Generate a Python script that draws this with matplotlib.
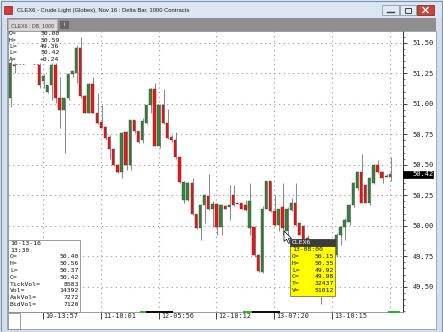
import matplotlib
matplotlib.use('Agg')
import matplotlib.pyplot as plt
import numpy as np
from matplotlib.patches import Rectangle, Polygon
import matplotlib.transforms as mtransforms
from matplotlib.ticker import MultipleLocator, FormatStrFormatter

nan = float('nan')

# ---------------- data (Delta bars) ----------------
opens = [51.05, 51.31, nan, nan, nan, nan, nan, 51.32, 51.19, 51.10,
         51.15, 51.32, 51.05, 50.95, 51.05, 51.24, 51.25, 51.46, 51.06, 50.92,
         51.16, 50.92, 50.85, 50.81, 50.73, 50.63, 50.50, 50.44, 50.77, 50.50,
         50.87, 50.78, 50.70, 50.84, 50.99, 51.12, 50.65, 50.99, 50.84, 50.73,
         50.70, 50.56, 50.21, 50.21, 50.35, 50.10, 49.98, 50.17, 50.24, 50.14,
         50.18, 49.99, 50.16, 50.15, 50.25, 50.19, 50.19, 50.17, 49.98, 49.99,
         49.76, 49.62, 50.14, 50.37, 50.12, 50.01, 50.15, 49.96, 50.13, 50.19,
         50.02, 50.00, 49.90, 49.80, 49.70, 49.48, 49.63, 49.72, 49.82, 49.76,
         49.92, 49.99, 50.03, 50.17, 50.31, 50.44, 50.33, 50.19, 50.35, 50.50,
         50.44, 50.41, 50.40]
highs = [51.36, 51.33, nan, nan, nan, nan, nan, 51.33, 51.24, 51.15,
         51.33, 51.33, 51.22, 51.05, 51.24, 51.28, 51.48, 51.55, 51.07, 51.17,
         51.22, 51.09, 50.99, 50.82, 50.74, 50.64, 50.51, 50.77, 50.78, 50.87,
         50.87, 50.78, 50.88, 51.00, 51.13, 51.17, 51.00, 51.12, 50.96, 50.74,
         50.77, 50.56, 50.37, 50.36, 50.39, 50.10, 50.18, 50.26, 50.42, 50.20,
         50.19, 50.18, 50.17, 50.33, 50.33, 50.19, 50.19, 50.21, 50.35, 50.00,
         49.77, 50.16, 50.37, 50.37, 50.25, 50.14, 50.35, 50.15, 50.23, 50.35,
         50.03, 50.01, 49.92, 49.82, 49.72, 49.68, 49.78, 49.83, 49.84, 49.94,
         50.00, 50.06, 50.18, 50.36, 50.45, 50.59, 50.34, 50.40, 50.51, 50.54,
         50.45, 50.42, 50.56]
lows = [50.97, 51.25, nan, nan, nan, nan, nan, 51.13, 51.13, 51.09,
        51.03, 51.01, 50.80, 50.60, 51.03, 51.22, 51.17, 51.05, 50.92, 50.92,
        50.92, 50.83, 50.80, 50.70, 50.55, 50.49, 50.43, 50.39, 50.46, 50.46,
        50.76, 50.68, 50.68, 50.83, 50.92, 50.65, 50.64, 50.83, 50.71, 50.69,
        50.55, 50.35, 50.19, 50.20, 50.09, 49.97, 49.88, 50.02, 50.13, 49.99,
        49.92, 49.92, 50.14, 50.05, 50.16, 50.18, 50.14, 50.12, 49.92, 49.74,
        49.62, 49.61, 50.14, 50.11, 50.00, 49.96, 49.92, 49.88, 50.12, 50.00,
        49.92, 49.87, 49.78, 49.68, 49.52, 49.36, 49.60, 49.70, 49.72, 49.74,
        49.84, 49.88, 50.01, 50.15, 50.29, 50.19, 50.19, 50.17, 50.34, 50.43,
        50.35, 50.40, 50.37]
closes = [51.33, 51.31, nan, nan, nan, nan, nan, 51.15, 51.23, 51.15,
          51.32, 51.05, 50.95, 51.05, 51.24, 51.27, 51.46, 51.06, 50.92, 51.16,
          50.92, 50.84, 50.80, 50.72, 50.63, 50.50, 50.44, 50.76, 50.50, 50.87,
          50.78, 50.69, 50.86, 50.99, 51.12, 50.65, 50.99, 50.84, 50.72, 50.70,
          50.56, 50.36, 50.36, 50.35, 50.10, 49.98, 50.17, 50.25, 50.14, 50.18,
          49.99, 50.17, 50.14, 50.17, 50.17, 50.18, 50.14, 50.13, 50.20, 49.76,
          49.63, 50.14, 50.37, 50.12, 50.01, 50.14, 49.98, 50.14, 50.19, 50.01,
          49.92, 49.88, 49.80, 49.70, 49.56, 49.64, 49.76, 49.80, 49.74, 49.92,
          49.99, 50.05, 50.17, 50.35, 50.44, 50.19, 50.19, 50.39, 50.50, 50.44,
          50.39, 50.40, 50.42]

tick_positions = [8, 22, 36, 50, 64, 78]
tick_labels = ['10-13:57', '11-10:01', '12-05:56', '12-10:12', '13-07:20', '13-10:15']
price_ticks = [49.50, 49.75, 50.00, 50.25, 50.50, 50.75, 51.00, 51.25, 51.50]
last_price = 50.42

header_labels = ['O=', 'H=', 'L=', 'L=', 'A=']
header_values = ['50.00', '50.59', '49.36', '50.42', '+0.24']

info_date = ['10-13-16', '13:30']
info_labels = ['O=', 'H=', 'L=', 'C=', 'TickVol=', 'Vol=', 'AskVol=', 'BidVol=']
info_values = ['50.40', '50.56', '50.37', '50.42', '8583', '14392', '7272', '7120']

tip_title = 'CLEX6'
tip_time = '13-08:00'
tip_labels = ['O=', 'H=', 'L=', 'C=', 'T=', 'V=']
tip_values = ['50.15', '50.35', '49.92', '49.98', '32437', '51012']

title_text = 'CLEX6 - Crude Light (Globex), Nov 16 : Delta Bar, 1000 Contracts'
tab_text = 'CLEX6 : DB, 1000'

MONO = 'DejaVu Sans Mono'
SANS = 'Liberation Sans'
FS = 4.6

W, H = 443, 332
fig = plt.figure(figsize=(W / 100, H / 100), dpi=100)
fig.patch.set_facecolor('#d3dfee')

# --------------- background chrome (pixel coordinates) ---------------
bg = fig.add_axes([0, 0, 1, 1], zorder=0)
bg.set_xlim(0, W); bg.set_ylim(H, 0); bg.axis('off')
bg.add_patch(Rectangle((0, 0), W, 18, fc='#dce6f3', ec='none'))
bg.add_patch(Rectangle((7, 18), 429, 13, fc='#8f8f8f', ec='none'))
bg.add_patch(Rectangle((8, 19), 49, 12, fc='#d6d6d6', ec='#b0b0b0', lw=0.5))
bg.add_patch(Rectangle((60, 21), 9, 8, fc='#666666', ec='none'))
bg.text(64.5, 25, 'i', color='white', fontsize=4, ha='center', va='center', family=SANS)
bg.add_patch(Rectangle((7, 31), 429, 298, fc='white', ec='#8a9bb0', lw=0.6))
bg.add_patch(Rectangle((4, 6), 8, 8, fc='#d33a3a', ec='#902020', lw=0.5))
bg.add_patch(Rectangle((0.5, 0.5), W - 1, H - 1, fc='none', ec='#7d93ad', lw=0.8))
# window buttons
bg.add_patch(Rectangle((382, 5), 17, 10, fc='#e3eaf3', ec='#8a9bb0', lw=0.6))
bg.plot([387, 394], [11.5, 11.5], color='#404040', lw=1.0)
bg.add_patch(Rectangle((400, 5), 16, 10, fc='#e3eaf3', ec='#8a9bb0', lw=0.6))
bg.add_patch(Rectangle((405, 8), 6, 5, fc='none', ec='#404040', lw=0.7))
bg.add_patch(Rectangle((417, 5), 17, 10, fc='#c9463d', ec='#8a3030', lw=0.6))
bg.plot([423, 428], [7.5, 12.5], color='white', lw=1.0)
bg.plot([423, 428], [12.5, 7.5], color='white', lw=1.0)

t_title = bg.text(17, 10.5, title_text, fontsize=5, family=SANS, color='#1a1a1a', va='center', ha='left')
t_tab = bg.text(11, 25.5, tab_text, fontsize=4, family=SANS, color='#404040', va='center', ha='left')

# --------------- main chart axes ---------------
L, R, T, B = 8, 403, 31, 312
ax = fig.add_axes([L / W, (H - B) / H, (R - L) / W, (B - T) / H], zorder=2)
ax.set_facecolor('white')

x = np.arange(len(opens))
o = np.array(opens); h = np.array(highs); lo = np.array(lows); c = np.array(closes)
up = c >= o
body_bottom = np.minimum(o, c)
body_height = np.maximum(np.abs(c - o), 0.006)

ax.vlines(x + 0.22, lo, h, color='#8c8c8c', lw=0.75, zorder=2)
ax.bar(x[up], body_height[up], bottom=body_bottom[up], width=0.58,
       color='#3f7f3f', edgecolor='#2a5a2e', linewidth=0.3, zorder=3)
ax.bar(x[~up], body_height[~up], bottom=body_bottom[~up], width=0.58,
       color='#e21c1c', edgecolor='#9a1414', linewidth=0.3, zorder=3)

ax.set_xlim(-0.48, 95.16)
ax.set_ylim(49.293, 51.596)

ax.yaxis.tick_right()
ax.set_yticks(price_ticks)
ax.yaxis.set_major_formatter(FormatStrFormatter('%.2f'))
ax.yaxis.set_minor_locator(MultipleLocator(0.05))
ax.tick_params(axis='y', which='major', direction='out', length=2.6, width=0.6,
               pad=4.2, labelsize=5.0, colors='#202020')
ax.tick_params(axis='y', which='minor', direction='out', length=1.4, width=0.5, colors='#404040')
for lab in ax.get_yticklabels():
    lab.set_family(MONO)

ax.set_xticks(tick_positions)
ax.set_xticklabels(tick_labels)
ax.set_xticks([92], minor=True)
ax.tick_params(axis='x', which='major', direction='out', length=5.2, width=0.6,
               pad=-4.6, labelsize=4.9, colors='#202020')
ax.tick_params(axis='x', which='minor', length=0)
offset = mtransforms.ScaledTranslation(2.2 / 100, 0, fig.dpi_scale_trans)
for lab in ax.get_xticklabels():
    lab.set_family(MONO)
    lab.set_horizontalalignment('left')
    lab.set_transform(lab.get_transform() + offset)

ax.grid(which='major', axis='both', color='#9a9a9a', linestyle=(0, (1, 3.2)), lw=0.8, zorder=0)
ax.grid(which='minor', axis='x', color='#9a9a9a', linestyle=(0, (1, 3.2)), lw=0.8, zorder=0)
ax.grid(which='minor', axis='y', visible=False)
ax.set_axisbelow(True)

for s in ['left', 'top', 'bottom']:
    ax.spines[s].set_color('#8a8a8a'); ax.spines[s].set_linewidth(0.6)
ax.spines['right'].set_color('#303030'); ax.spines['right'].set_linewidth(0.7)

# last price marker on the axis
blend = mtransforms.blended_transform_factory(ax.transAxes, ax.transData)
box_h = 7.5 / 122.0
ax.add_patch(Rectangle((1.0, last_price - box_h / 2), 30 / (R - L), box_h, transform=blend,
                       fc='black', ec='black', lw=0.5, clip_on=False, zorder=5))
ax.text(1.0 + 9 / (R - L), last_price, f'{last_price:.2f}', transform=blend, color='white',
        fontsize=5.0, family=MONO, va='center', ha='left', clip_on=False, zorder=6)

# --------------- overlay (pixel coordinates) ---------------
ov = fig.add_axes([0, 0, 1, 1], zorder=10)
ov.set_xlim(0, W); ov.set_ylim(H, 0); ov.axis('off'); ov.patch.set_alpha(0)

# top-left header readout
for i, (lb, vl) in enumerate(zip(header_labels, header_values)):
    yy = 33.5 + i * 6.5
    ov.text(9, yy, lb, fontsize=FS, family=MONO, va='center', ha='left', color='#101010')
    ov.text(59.5, yy, vl, fontsize=FS, family=MONO, va='center', ha='right', color='#101010')
ov.plot([9, 24], [63.5, 63.5], color='#c04848', lw=0.6, linestyle=(0, (2, 2)))
ov.plot([33, 38], [63.5, 63.5], color='#c04848', lw=0.6, linestyle=(0, (2, 2)))

# session markers along the time axis
for (x0, x1, col) in [(37, 45, '#22bb22'), (45, 74, '#101010'), (140, 146, '#22bb22'),
                      (146, 173, '#101010'), (243, 252, '#22bb22'), (252, 280, '#101010'),
                      (388, 400, '#22bb22')]:
    ov.add_patch(Rectangle((x0, 311.3), x1 - x0, 1.8, fc=col, ec='none'))

# bottom-left data window
ov.add_patch(Rectangle((8, 240), 72, 72, fc='white', ec='#8a8a8a', lw=0.6))
ov.add_patch(Rectangle((8, 313), 12, 16, fc='white', ec='#8a8a8a', lw=0.6))
rows = info_date + info_labels
for i, lb in enumerate(rows):
    yy = 243.5 + i * 6.75
    ov.text(10, yy, lb, fontsize=FS, family=MONO, va='center', ha='left', color='#101010')
    if i >= 2:
        ov.text(79, yy, info_values[i - 2], fontsize=FS, family=MONO, va='center', ha='right', color='#101010')

# tooltip for the hovered bar
ov.add_patch(Rectangle((290, 246), 45, 49.5, fc='#ffff00', ec='#7a7a40', lw=0.6))
ov.add_patch(Rectangle((290, 239), 45, 7, fc='#3c3c3c', ec='#3c3c3c', lw=0.6))
ov.text(292, 242.6, tip_title, fontsize=FS, family=MONO, va='center', ha='left', color='white')
ov.text(292, 249.8, tip_time, fontsize=FS, family=MONO, va='center', ha='left', color='#101010')
for i, (lb, vl) in enumerate(zip(tip_labels, tip_values)):
    yy = 256.6 + i * 6.8
    ov.text(292, yy, lb, fontsize=FS, family=MONO, va='center', ha='left', color='#101010')
    ov.text(334, yy, vl, fontsize=FS, family=MONO, va='center', ha='right', color='#101010')

# mouse cursor
ov.add_patch(Polygon([(284, 231), (284, 241.5), (286.6, 239.2), (288.6, 243.4), (290.2, 242.7),
                      (288.3, 238.6), (291.6, 238.4)], closed=True, fc='white', ec='black', lw=0.5))

# fit title/tab text to the measured widths
fig.canvas.draw()
rend = fig.canvas.get_renderer()
for t, target in [(t_title, 176), (t_tab, 43)]:
    wpx = t.get_window_extent(rend).width
    t.set_fontsize(t.get_fontsize() * target / wpx)

fig.savefig('out.png', dpi=100, facecolor=fig.get_facecolor())
